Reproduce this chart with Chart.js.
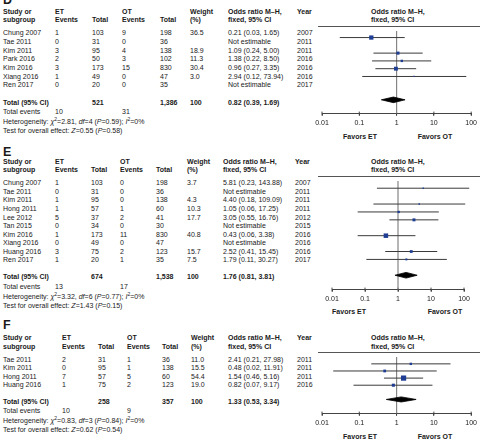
<!DOCTYPE html>
<html><head><meta charset="utf-8">
<script src="https://cdn.jsdelivr.net/npm/chart.js@4.4.1/dist/chart.umd.min.js"></script>
<style>
html,body{margin:0;padding:0;background:#fff;}
#wrap{position:relative;width:480px;height:445px;overflow:hidden;font-family:"Liberation Sans",Arial,sans-serif;color:#1a1a1a;font-size:7px;}
.t{position:absolute;white-space:nowrap;line-height:10px;height:10px;}
.b{font-weight:bold;}
.c{transform:translateX(-50%);}
.L{position:absolute;font-weight:bold;font-size:12.5px;line-height:14px;}
.hl{position:absolute;height:0;border-top:1px solid #555;}
sup{font-size:5px;line-height:0;vertical-align:3px;}
canvas{position:absolute;}
</style></head><body><div id="wrap"></div>
<script>
// ---------- shared axis ----------
const tickValues = [0.01, 0.1, 1, 10, 100];
const tickLabels = ["0.01", "0.1", "1", "10", "100"];

// ---------- Panel D ----------
const dStudies   = ["Chung 2007","Tae 2011","Kim 2011","Park 2016","Kim 2016","Xiang 2016","Ren 2017"];
const dEtEvents  = [1,0,3,2,3,1,0];
const dEtTotal   = [103,31,95,50,173,49,20];
const dOtEvents  = [9,0,4,3,15,0,0];
const dOtTotal   = [198,36,138,102,830,47,35];
const dWeight    = [36.5,null,18.9,11.3,30.4,3.0,null];
const dOR        = [0.21,null,1.09,1.38,0.96,2.94,null];
const dLow       = [0.03,null,0.24,0.22,0.27,0.12,null];
const dHigh      = [1.65,null,5.00,8.50,3.35,73.94,null];
const dYear      = [2007,2011,2011,2016,2016,2016,2017];
const dTotals    = [521,1386];
const dTotEvents = [10,31];
const dPooled    = [0.82,0.39,1.69];
const dHetero    = [2.81,4,0.59,0];
const dOverall   = [0.55,0.58];

// ---------- Panel E ----------
const eStudies   = ["Chung 2007","Tae 2011","Kim 2011","Hong 2011","Lee 2012","Tan 2015","Kim 2016","Xiang 2016","Huang 2016","Ren 2017"];
const eEtEvents  = [1,0,1,1,5,0,1,0,3,1];
const eEtTotal   = [103,31,95,57,37,34,173,49,75,20];
const eOtEvents  = [0,0,0,1,2,0,11,0,2,1];
const eOtTotal   = [198,36,138,60,41,30,830,47,123,35];
const eWeight    = [3.7,null,4.3,10.3,17.7,null,40.8,null,15.7,7.5];
const eOR        = [5.81,null,4.40,1.05,3.05,null,0.43,null,2.52,1.79];
const eLow       = [0.23,null,0.18,0.06,0.55,null,0.06,null,0.41,0.11];
const eHigh      = [143.88,null,109.09,17.25,16.76,null,3.38,null,15.45,30.27];
const eYear      = [2007,2011,2011,2011,2012,2015,2016,2016,2016,2017];
const eTotals    = [674,1538];
const eTotEvents = [13,17];
const ePooled    = [1.76,0.81,3.81];
const eHetero    = [3.32,6,0.77,0];
const eOverall   = [1.43,0.15];

// ---------- Panel F ----------
const fStudies   = ["Tae 2011","Kim 2011","Hong 2011","Huang 2016"];
const fEtEvents  = [2,0,7,1];
const fEtTotal   = [31,95,57,75];
const fOtEvents  = [1,1,5,2];
const fOtTotal   = [36,138,60,123];
const fWeight    = [11.0,15.5,54.4,19.0];
const fOR        = [2.41,0.48,1.54,0.82];
const fLow       = [0.21,0.02,0.46,0.07];
const fHigh      = [27.98,11.91,5.16,9.17];
const fYear      = [2011,2011,2011,2016];
const fTotals    = [258,357];
const fTotEvents = [10,9];
const fPooled    = [1.33,0.53,3.34];
const fHetero    = [0.83,3,0.84,0];
const fOverall   = [0.62,0.54];

const wrap = document.getElementById('wrap');
function txt(x, cy, html, cls) {
  const d = document.createElement('div');
  d.className = 't ' + (cls || '');
  d.style.left = x + 'px';
  d.style.top = (cy - 5) + 'px';
  d.innerHTML = html;
  wrap.appendChild(d);
}
const f2 = v => v.toFixed(2);
const orText = (o, l, h) => o == null ? "Not estimable" : `${f2(o)} (${f2(l)}, ${f2(h)})`;
const thou = n => n.toLocaleString('en-US');

const panels = [
  {letter:"D", letterY:0, h1:11.5, lineY:26, row0:33.3, gap:8.67, axisY:118, axL:322, axR:473,
   cols:[3,55,92,122,160,190,228,297], favET:360, favOT:435,
   st:dStudies, ee:dEtEvents, et:dEtTotal, oe:dOtEvents, ot:dOtTotal, w:dWeight, or:dOR, lo:dLow, hi:dHigh, yr:dYear,
   tot:dTotals, tev:dTotEvents, pooled:dPooled, het:dHetero, ov:dOverall},
  {letter:"E", letterY:151.7, h1:161.7, lineY:175.5, row0:183.3, gap:8.56, axisY:293, axL:332, axR:464,
   cols:[3,55,91,120,156,187,223,295], favET:349, favOT:445,
   st:eStudies, ee:eEtEvents, et:eEtTotal, oe:eOtEvents, ot:eOtTotal, w:eWeight, or:eOR, lo:eLow, hi:eHigh, yr:eYear,
   tot:eTotals, tev:eTotEvents, pooled:ePooled, het:eHetero, ov:eOverall},
  {letter:"F", letterY:325, h1:338.3, lineY:352, row0:360, gap:8.3, axisY:418, axL:322, axR:473,
   cols:[3,62,98,127,162,191,228,297], favET:360, favOT:435,
   st:fStudies, ee:fEtEvents, et:fEtTotal, oe:fOtEvents, ot:fOtTotal, w:fWeight, or:fOR, lo:fLow, hi:fHigh, yr:fYear,
   tot:fTotals, tev:fTotEvents, pooled:fPooled, het:fHetero, ov:fOverall}
];

panels.forEach(p => {
  // panel letter
  const L = document.createElement('div');
  L.className = 'L'; L.style.left = '3px'; L.style.top = (p.letterY - 6.9) + 'px';
  L.textContent = p.letter; wrap.appendChild(L);
  const c = p.cols, h2 = p.h1 + 8.5;
  // headers
  txt(c[0], p.h1, "Study or", "b"); txt(c[0], h2, "subgroup", "b");
  txt(c[1], p.h1, "ET", "b"); txt(c[1], h2, "Events", "b");
  txt(c[2], h2, "Total", "b");
  txt(c[3], p.h1, "OT", "b"); txt(c[3], h2, "Events", "b");
  txt(c[4], h2, "Total", "b");
  txt(c[5], p.h1, "Weight", "b"); txt(c[5], h2, "(%)", "b");
  txt(c[6], p.h1, "Odds ratio M–H,", "b"); txt(c[6], h2, "fixed, 95% CI", "b");
  txt(c[7], p.h1, "Year", "b");
  txt(371, p.h1, "Odds ratio M–H,", "b"); txt(371, h2, "fixed, 95% CI", "b");
  const hl = document.createElement('div');
  hl.className = 'hl'; hl.style.left = '318px'; hl.style.width = '162px'; hl.style.top = p.lineY + 'px';
  wrap.appendChild(hl);
  // study rows
  p.st.forEach((s, i) => {
    const y = p.row0 + i * p.gap;
    txt(c[0], y, s); txt(c[1], y, p.ee[i]); txt(c[2], y, p.et[i]);
    txt(c[3], y, p.oe[i]); txt(c[4], y, p.ot[i]);
    txt(c[5], y, p.w[i] == null ? "" : p.w[i].toFixed(1));
    txt(c[6], y, orText(p.or[i], p.lo[i], p.hi[i]));
    txt(c[7], y, p.yr[i]);
  });
  const ty = p.row0 + (p.st.length + 1) * p.gap;
  txt(c[0], ty, "Total (95% CI)", "b"); txt(c[2], ty, thou(p.tot[0]), "b");
  txt(c[4], ty, thou(p.tot[1]), "b"); txt(c[5], ty, "100", "b");
  txt(c[6], ty, orText(p.pooled[0], p.pooled[1], p.pooled[2]), "b");
  const ey = ty + 9.7;
  txt(c[0], ey, "Total events"); txt(c[1], ey, p.tev[0]); txt(c[3], ey, p.tev[1]);
  txt(c[0], ey + 9.4, `Heterogeneity: <i>χ</i><sup>2</sup>=${f2(p.het[0])}, <i>df</i>=${p.het[1]} (<i>P</i>=${f2(p.het[2])}); <i>I</i><sup>2</sup>=${p.het[3]}%`);
  txt(c[0], ey + 18.5, `Test for overall effect: <i>Z</i>=${f2(p.ov[0])} (<i>P</i>=${f2(p.ov[1])})`);
  txt(p.favET, p.axisY + 18.5, "Favors ET", "b c");
  txt(p.favOT, p.axisY + 18.5, "Favors OT", "b c");

  // chart
  const cv = document.createElement('canvas');
  const H = Math.round(p.axisY - p.lineY + 12.4);
  cv.width = 170; cv.height = H;
  cv.style.left = '310px'; cv.style.top = p.lineY + 'px';
  cv.style.width = '170px'; cv.style.height = H + 'px';
  wrap.appendChild(cv);
  const yMin = (p.lineY - p.row0) / p.gap, yMax = (p.axisY - p.row0) / p.gap;
  const datasets = [];
  // study squares (size from weight)
  const pts = [], radii = [];
  p.or.forEach((v, i) => { if (v == null) return; pts.push({x: v, y: i}); radii.push(0.5 * Math.sqrt(p.w[i])); });
  datasets.push({data: pts, showLine: false, pointStyle: 'rect', pointRadius: radii,
    pointBackgroundColor: '#1f3e93', pointBorderColor: '#1f3e93', pointBorderWidth: 0, clip: false, order: 0});
  // pooled diamond
  const dy = p.st.length + 1;
  datasets.push({data: [{x: p.pooled[1], y: dy}, {x: p.pooled[0], y: dy - 0.36}, {x: p.pooled[2], y: dy},
    {x: p.pooled[0], y: dy + 0.36}, {x: p.pooled[1], y: dy}],
    borderColor: '#000', backgroundColor: '#000', borderWidth: 0.8, pointRadius: 0, fill: 'shape', tension: 0, order: 1});
  // confidence intervals
  p.or.forEach((v, i) => {
    if (v == null) return;
    datasets.push({data: [{x: p.lo[i], y: i}, {x: p.hi[i], y: i}], borderColor: '#3a3a3a', borderWidth: 1,
      pointRadius: 0, clip: false, order: 2});
  });
  // line of no effect
  datasets.push({data: [{x: 1, y: yMin}, {x: 1, y: yMax}], borderColor: '#858585', borderWidth: 1.2, pointRadius: 0, order: 3});
  // axis cross ticks
  datasets.push({data: tickValues.map(v => ({x: v, y: yMax})), showLine: false, pointStyle: 'line', rotation: 90,
    pointRadius: 2, pointBorderColor: '#444', pointBorderWidth: 1, clip: false, order: 4});

  new Chart(cv, {
    type: 'line',
    data: {datasets},
    options: {
      responsive: false, animation: false, devicePixelRatio: 1, events: [],
      layout: {padding: {left: p.axL - 310, right: 480 - p.axR, top: 0, bottom: 0}},
      plugins: {legend: {display: false}, tooltip: {enabled: false}},
      scales: {
        x: {type: 'logarithmic', min: 0.01, max: 100,
          afterBuildTicks: s => { s.ticks = tickValues.map(v => ({value: v})); },
          ticks: {callback: v => tickLabels[tickValues.indexOf(v)], autoSkip: false, maxRotation: 0,
            font: {family: 'Liberation Sans', size: 7}, color: '#1a1a1a', padding: 3},
          grid: {drawOnChartArea: false, drawTicks: true, tickLength: 2, color: '#444'},
          border: {display: true, color: '#444', width: 1}},
        y: {type: 'linear', display: false, min: yMin, max: yMax, reverse: true}
      }
    }
  });
});
</script></body></html>
